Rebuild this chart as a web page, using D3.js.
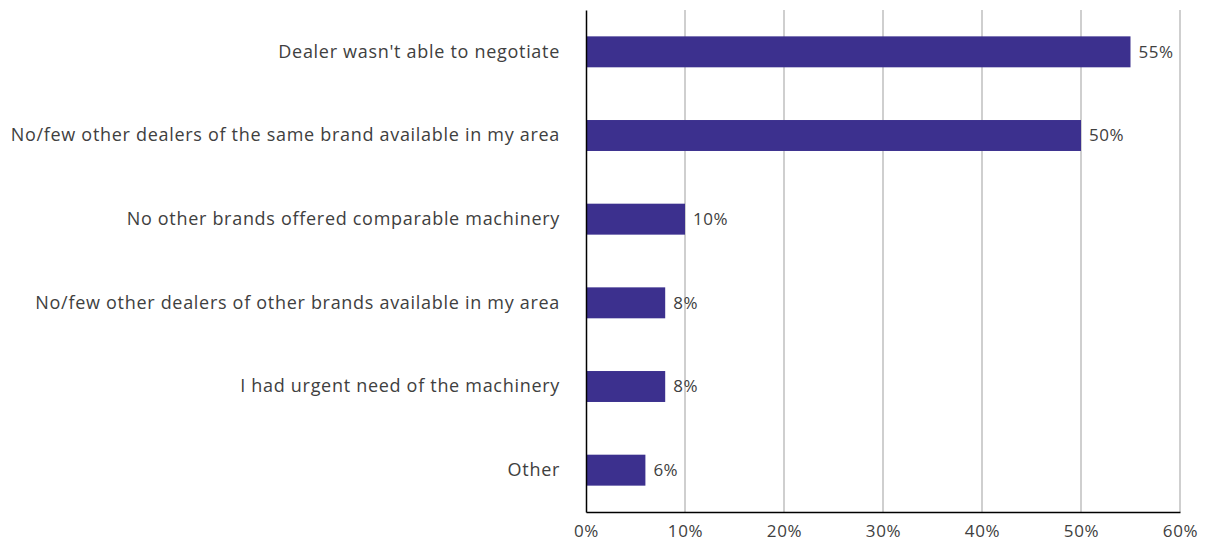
<!DOCTYPE html>
<html>
<head>
<meta charset="utf-8">
<script src="https://cdn.jsdelivr.net/npm/d3@7"></script>
<style>
  html, body { margin: 0; padding: 0; background: #fff; }
  svg { display: block; }
  text { font-family: "Open Sans", "Noto Sans", sans-serif; fill: #404040; }
</style>
</head>
<body>
<svg id="chart" width="1208" height="543"></svg>
<script>
// Reasons given (share of respondents, %)
const categories = [
  "Dealer wasn't able to negotiate",
  "No/few other dealers of the same brand available in my area",
  "No other brands offered comparable machinery",
  "No/few other dealers of other brands available in my area",
  "I had urgent need of the machinery",
  "Other"
];
const values = [55, 50, 10, 8, 8, 6];
const tickValues = [0, 10, 20, 30, 40, 50, 60];

const svg = d3.select("#chart");
const margin = { top: 10, right: 28, bottom: 31, left: 586 };
const W = 1208, H = 543;
const innerW = W - margin.left - margin.right;
const innerH = H - margin.top - margin.bottom;
const FONT = "\"Open Sans\", \"Noto Sans\", sans-serif";

const x = d3.scaleLinear().domain([0, 60]).range([0, innerW]);
const y = d3.scaleBand().domain(categories).range([0, innerH])
  .paddingInner(0.63).paddingOuter(0.315);

const g = svg.append("g").attr("transform", `translate(${margin.left},${margin.top})`);

// Vertical gridlines
g.append("g")
  .selectAll("line")
  .data(tickValues.filter(d => d > 0))
  .join("line")
  .attr("x1", d => x(d)).attr("x2", d => x(d))
  .attr("y1", 0).attr("y2", innerH)
  .attr("stroke", "#bfbfbf").attr("stroke-width", 1.5);

// Bars
g.append("g")
  .selectAll("rect")
  .data(categories)
  .join("rect")
  .attr("x", 0)
  .attr("y", d => y(d))
  .attr("width", (d, i) => x(values[i]))
  .attr("height", y.bandwidth())
  .attr("fill", "#3c308e");

// Value labels
g.append("g")
  .selectAll("text")
  .data(categories)
  .join("text")
  .attr("x", (d, i) => x(values[i]) + 8)
  .attr("y", d => y(d) + y.bandwidth() / 2)
  .attr("dy", "0.35em")
  .attr("font-size", 17)
  .attr("letter-spacing", 0.5)
  .text((d, i) => values[i] + "%");

// Category axis
const yAxis = g.append("g").call(d3.axisLeft(y).tickSize(0).tickPadding(26));
yAxis.select(".domain").attr("stroke", "#000").attr("stroke-width", 1.5);
yAxis.selectAll("text").attr("font-size", 18).attr("letter-spacing", 0.7)
  .attr("fill", "#404040").style("font-family", FONT);

// Value axis
const xAxis = g.append("g").attr("transform", `translate(0,${innerH})`)
  .call(d3.axisBottom(x).tickValues(tickValues).tickSize(0).tickPadding(13)
    .tickFormat(d => d + "%"));
xAxis.select(".domain").attr("stroke", "#000").attr("stroke-width", 1.5);
xAxis.selectAll("text").attr("font-size", 17).attr("letter-spacing", 0.6)
  .attr("fill", "#404040").style("font-family", FONT);
</script>
</body>
</html>
